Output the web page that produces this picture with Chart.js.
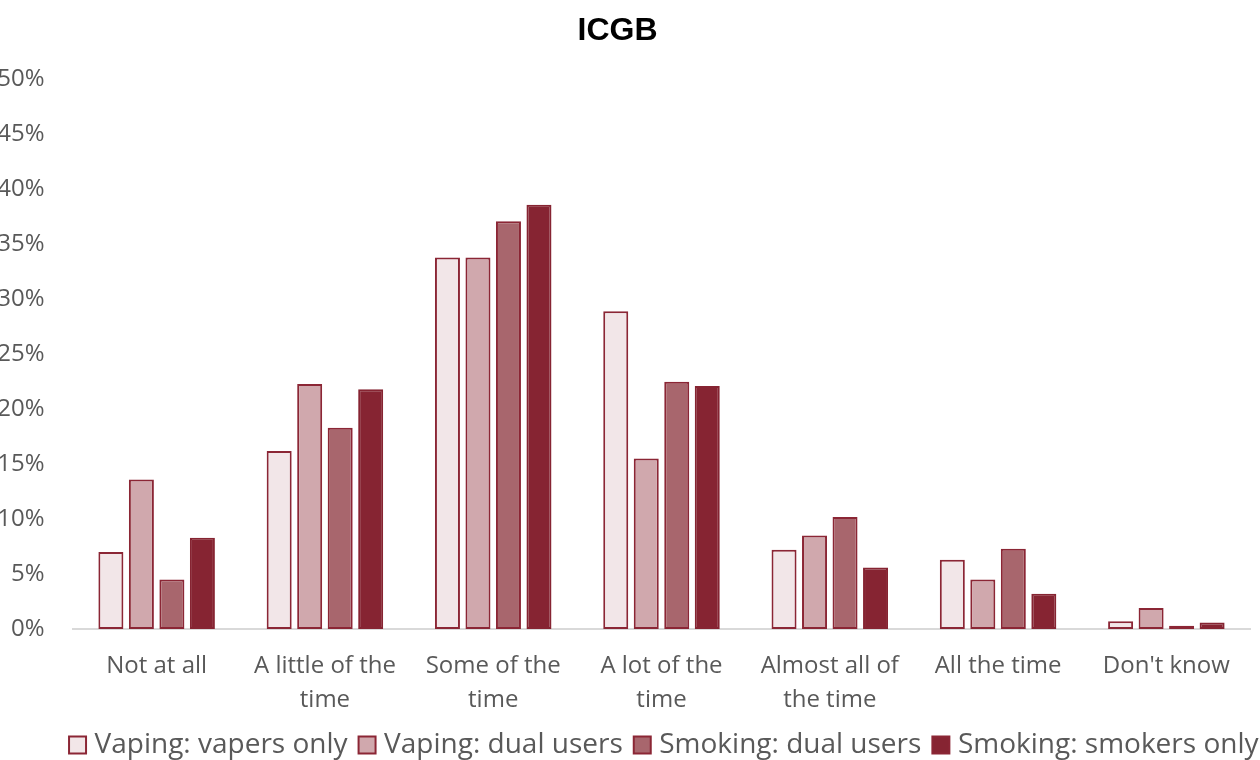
<!DOCTYPE html>
<html>
<head>
<meta charset="utf-8">
<script src="https://cdn.jsdelivr.net/npm/chart.js@4"></script>
<style>
  html, body { margin:0; padding:0; background:#fff; overflow:hidden; width:1260px; height:760px; }
  #wrap { position:absolute; left:-40.5px; top:0; width:1315px; height:769px; }
</style>
</head>
<body>
<div id="wrap"><canvas id="c" width="1315" height="769"></canvas></div>
<script>
const chartTitle = "ICGB";
const categories = [["Not at all"], ["A little of the", "time"], ["Some of the", "time"], ["A lot of the", "time"], ["Almost all of", "the time"], ["All the time"], ["Don't know"]];
const seriesNames = ["Vaping: vapers only", "Vaping: dual users", "Smoking: dual users", "Smoking: smokers only"];
const vapersOnly   = [7.0, 16.2, 33.8, 28.9, 7.2, 6.3, 0.7];
const vapingDual   = [13.6, 22.3, 33.8, 15.5, 8.5, 4.5, 1.9];
const smokingDual  = [4.5, 18.3, 37.1, 22.5, 10.2, 7.3, 0.3];
const smokersOnly  = [8.3, 21.8, 38.6, 22.1, 5.6, 3.2, 0.6];
const yTicks = [0, 5, 10, 15, 20, 25, 30, 35, 40, 45, 50];

const fills = ["#F2E6E8", "#D0A8AD", "#A8666D", "#862432"];
const border = "#8B2635";
const seriesData = [vapersOnly, vapingDual, smokingDual, smokersOnly];

const datasets = seriesNames.map((name, i) => ({
  label: name,
  data: seriesData[i],
  backgroundColor: fills[i],
  borderColor: i === 3 ? fills[3] : border,
  borderWidth: 2,
  borderSkipped: false,
  categoryPercentage: 0.725,
  barPercentage: 0.82
}));

new Chart(document.getElementById('c'), {
  type: 'bar',
  data: { labels: categories, datasets },
  options: {
    responsive: false,
    animation: false,
    devicePixelRatio: 1,
    layout: { padding: 0 },
    plugins: {
      tooltip: { enabled: false },
      title: {
        display: true,
        text: chartTitle,
        color: '#000',
        font: { family: '"Liberation Sans", Arial, sans-serif', size: 32, weight: 'bold', lineHeight: 1.2 },
        padding: { top: 12, bottom: 29 }
      },
      legend: {
        position: 'bottom',
        align: 'end',
        labels: {
          color: '#595959',
          font: { family: '"Open Sans", sans-serif', size: 28 },
          usePointStyle: true,
          pointStyle: 'rect',
          boxWidth: 6,
          boxHeight: 17,
          padding: 16.5,
          generateLabels: (chart) => chart.data.datasets.map((ds, i) => ({
            text: ds.label,
            fillStyle: ds.backgroundColor,
            strokeStyle: border,
            lineWidth: 2,
            pointStyle: 'rect',
            fontColor: '#595959',
            datasetIndex: i,
            hidden: false
          }))
        }
      }
    },
    scales: {
      x: {
        afterFit: (s) => { s.height = 85.5; },
        grid: { display: false, drawTicks: false },
        border: { display: true, color: '#D9D9D9', width: 2 },
        ticks: {
          color: '#595959',
          font: { family: '"Open Sans", sans-serif', size: 24, lineHeight: 1.38 },
          padding: 21,
          maxRotation: 0,
          autoSkip: false
        }
      },
      y: {
        min: 0,
        max: 50,
        afterFit: (s) => { s.width = 112.5; },
        afterBuildTicks: (s) => { s.ticks = yTicks.map(v => ({ value: v })); },
        grid: { display: false, drawTicks: false },
        border: { display: false },
        ticks: {
          color: '#595959',
          font: { family: '"Open Sans", sans-serif', size: 24 },
          padding: 28,
          callback: (v) => v + '%'
        }
      },
      yRight: {
        position: 'right',
        min: 0,
        max: 50,
        afterFit: (s) => { s.width = 24.5; },
        grid: { display: false, drawTicks: false },
        border: { display: false },
        ticks: { display: false }
      }
    }
  }
});
</script>
</body>
</html>
